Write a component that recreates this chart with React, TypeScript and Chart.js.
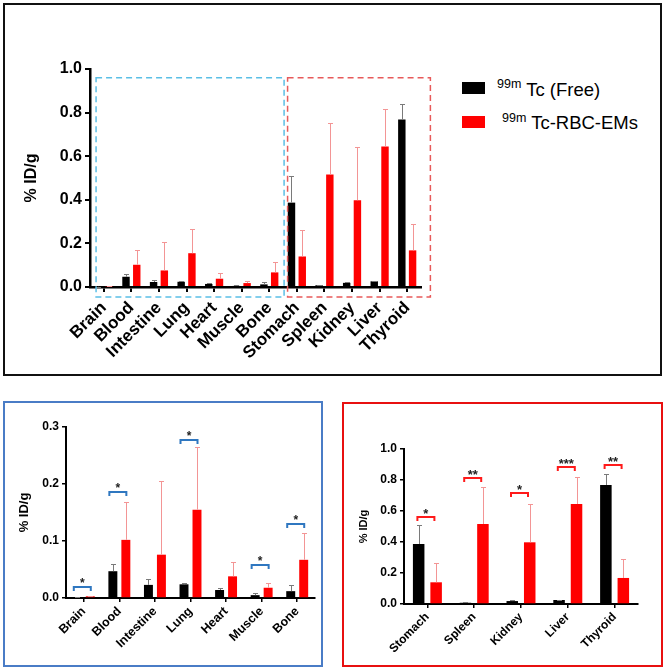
import React, { useEffect, useRef } from "react";
import { Chart, registerables } from "chart.js";

Chart.register(...registerables);

// ---------- data ----------
const ORGANS = ["Brain", "Blood", "Intestine", "Lung", "Heart", "Muscle", "Bone", "Stomach", "Spleen", "Kidney", "Liver", "Thyroid"];
const FREE_MEAN = [0.001, 0.047, 0.023, 0.024, 0.014, 0.005, 0.012, 0.387, 0.008, 0.019, 0.026, 0.768];
const FREE_ERR = [0.0005, 0.013, 0.010, 0.003, 0.004, 0.003, 0.010, 0.121, 0.002, 0.005, 0.003, 0.071];
const EMS_MEAN = [0.003, 0.102, 0.076, 0.155, 0.038, 0.018, 0.067, 0.140, 0.516, 0.398, 0.645, 0.168];
const EMS_ERR = [0.001, 0.066, 0.129, 0.110, 0.026, 0.008, 0.047, 0.122, 0.237, 0.245, 0.172, 0.122];
const ISOTOPE = "99m";
const SERIES = ["Tc (Free)", "Tc-RBC-EMs"];
const LOW_COUNT = 7;
const SIG_LOW = ["*", "*", "", "*", "", "*", "*"];
const SIG_LOW_LEVEL = [0.019, 0.186, 0, 0.278, 0, 0.058, 0.13];
const SIG_HIGH = ["*", "**", "*", "***", "**"];
const SIG_HIGH_LEVEL = [0.559, 0.81, 0.714, 0.882, 0.897];
const Y_TITLE = "% ID/g";

const FONT = "'Liberation Sans', Arial, Helvetica, sans-serif";

type Spec = {
  labels: string[];
  free: number[];
  freeErr: number[];
  ems: number[];
  emsErr: number[];
  yMax: number;
  yStep: number;
  left: number;
  top: number;
  width: number;
  height: number;
  padTop: number;
  padRight: number;
  yWidth: number;
  xHeight: number;
  tickFont: number;
  xFont: number;
  xPad: number;
  titleFont: number;
  titlePad: number;
  axisWidth: number;
  tickLen: number;
  catPct: number;
  barPct: number;
  cap: number;
  sig?: { labels: string[]; levels: number[]; color: string; font: number; lift: number };
  boxes?: boolean;
};

function buildChart(canvas: HTMLCanvasElement, s: Spec) {
  const errorPlugin = {
    id: "errorBars",
    afterDatasetsDraw(chart: any) {
      const ctx = chart.ctx;
      const y = chart.scales.y;
      chart.data.datasets.forEach((ds: any, di: number) => {
        const meta = chart.getDatasetMeta(di);
        meta.data.forEach((bar: any, i: number) => {
          const topPx = Math.round(y.getPixelForValue(ds.data[i] + ds.errors[i])) + 0.5;
          const x = Math.round(bar.x) + 0.5;
          ctx.save();
          ctx.strokeStyle = ds.errorColor;
          ctx.lineWidth = 1;
          ctx.beginPath();
          ctx.moveTo(x, bar.y);
          ctx.lineTo(x, topPx);
          ctx.moveTo(x - s.cap, topPx);
          ctx.lineTo(x + s.cap, topPx);
          ctx.stroke();
          ctx.restore();
        });
      });
    },
  };

  const sigPlugin = {
    id: "sigBrackets",
    afterDraw(chart: any) {
      if (!s.sig) return;
      const sig = s.sig;
      const ctx = chart.ctx;
      const y = chart.scales.y;
      const m0 = chart.getDatasetMeta(0);
      const m1 = chart.getDatasetMeta(1);
      sig.labels.forEach((lab, i) => {
        if (!lab) return;
        const c = (m0.data[i].x + m1.data[i].x) / 2;
        const yy = Math.round(y.getPixelForValue(sig.levels[i]));
        const l = c - 10;
        const r = c + 7;
        ctx.save();
        ctx.strokeStyle = sig.color;
        ctx.lineWidth = 2;
        ctx.beginPath();
        ctx.moveTo(l, yy + 4);
        ctx.lineTo(l, yy);
        ctx.lineTo(r, yy);
        ctx.lineTo(r, yy + 4);
        ctx.stroke();
        ctx.fillStyle = "#222";
        ctx.font = `bold ${sig.font}px ${FONT}`;
        ctx.textAlign = "center";
        ctx.textBaseline = "alphabetic";
        ctx.fillText(lab, (l + r) / 2, yy + sig.lift);
        ctx.restore();
      });
    },
  };

  const boxPlugin = {
    id: "regionBoxes",
    afterDraw(chart: any) {
      if (!s.boxes) return;
      const ctx = chart.ctx;
      const x = chart.scales.x;
      const y = chart.scales.y;
      const w = x.getPixelForValue(1) - x.getPixelForValue(0);
      const n = s.labels.length;
      const split = (x.getPixelForValue(LOW_COUNT - 1) + x.getPixelForValue(LOW_COUNT)) / 2;
      const top = y.getPixelForValue(0.96);
      const bottom = y.getPixelForValue(0) + 10;
      ctx.save();
      ctx.lineWidth = 1.5;
      ctx.setLineDash([6, 4]);
      ctx.strokeStyle = "#5bbfe6";
      const bl = x.getPixelForValue(0) - 0.28 * w;
      ctx.strokeRect(bl, top, split + 1 - bl, bottom - top);
      ctx.strokeStyle = "#e85a5a";
      const rl = split + 4.5;
      const rr = x.getPixelForValue(n - 1) + 0.84 * w;
      ctx.strokeRect(rl, top, rr - rl, bottom - top);
      ctx.restore();
    },
  };

  const bold = (size: number) => ({ family: FONT, size, weight: "bold" as const });

  return new Chart(canvas, {
    type: "bar",
    data: {
      labels: s.labels,
      datasets: [
        {
          label: ISOTOPE + SERIES[0],
          data: s.free,
          errors: s.freeErr,
          errorColor: "#7a7a7a",
          backgroundColor: "#000000",
          categoryPercentage: s.catPct,
          barPercentage: s.barPct,
        } as any,
        {
          label: ISOTOPE + SERIES[1],
          data: s.ems,
          errors: s.emsErr,
          errorColor: "#f39595",
          backgroundColor: "#ff0000",
          categoryPercentage: s.catPct,
          barPercentage: s.barPct,
        } as any,
      ],
    },
    options: {
      responsive: false,
      animation: false,
      layout: { padding: { top: s.padTop, right: s.padRight, left: 0, bottom: 0 } },
      plugins: { legend: { display: false }, tooltip: { enabled: false } },
      scales: {
        x: {
          type: "category",
          offset: true,
          grid: {
            display: true,
            drawOnChartArea: false,
            drawTicks: true,
            tickLength: s.tickLen,
            offset: false,
            color: "#000",
            lineWidth: s.axisWidth - 0.5,
          },
          border: { display: true, color: "#000", width: s.axisWidth },
          ticks: {
            font: bold(s.xFont),
            color: "#000",
            minRotation: 45,
            maxRotation: 45,
            autoSkip: false,
            padding: s.xPad,
          },
          afterFit: (sc: any) => {
            sc.height = s.xHeight;
          },
        },
        y: {
          min: 0,
          max: s.yMax,
          grid: {
            display: true,
            drawOnChartArea: false,
            drawTicks: true,
            tickLength: s.tickLen,
            color: "#000",
            lineWidth: s.axisWidth - 0.5,
          },
          border: { display: true, color: "#000", width: s.axisWidth },
          ticks: {
            stepSize: s.yStep,
            font: bold(s.tickFont),
            color: "#000",
            padding: 3,
            callback: (v: any) => Number(v).toFixed(1),
          },
          title: {
            display: true,
            text: Y_TITLE,
            font: bold(s.titleFont),
            color: "#000",
            padding: { top: s.titlePad, bottom: 0 },
          },
          afterFit: (sc: any) => {
            sc.width = s.yWidth;
          },
        },
      },
    },
    plugins: [errorPlugin, sigPlugin, boxPlugin],
  } as any);
}

function Panel({ spec }: { spec: Spec }) {
  const ref = useRef<HTMLCanvasElement | null>(null);
  useEffect(() => {
    if (!ref.current) return;
    const chart = buildChart(ref.current, spec);
    return () => chart.destroy();
  }, [spec]);
  return (
    <canvas
      ref={ref}
      width={spec.width}
      height={spec.height}
      style={{ position: "absolute", left: spec.left, top: spec.top, width: spec.width, height: spec.height }}
    />
  );
}

const TOP_SPEC: Spec = {
  labels: ORGANS,
  free: FREE_MEAN,
  freeErr: FREE_ERR,
  ems: EMS_MEAN,
  emsErr: EMS_ERR,
  yMax: 1,
  yStep: 0.2,
  left: 0,
  top: 0,
  width: 440,
  height: 372,
  padTop: 69,
  padRight: 19,
  yWidth: 90,
  xHeight: 85,
  tickFont: 16,
  xFont: 17,
  xPad: 6,
  titleFont: 16,
  titlePad: 22,
  axisWidth: 2.5,
  tickLen: 5,
  catPct: 0.78,
  barPct: 0.69,
  cap: 2.5,
  boxes: true,
};

const LOW_SPEC: Spec = {
  labels: ORGANS.slice(0, LOW_COUNT),
  free: FREE_MEAN.slice(0, LOW_COUNT),
  freeErr: FREE_ERR.slice(0, LOW_COUNT),
  ems: EMS_MEAN.slice(0, LOW_COUNT),
  emsErr: EMS_ERR.slice(0, LOW_COUNT),
  yMax: 0.3,
  yStep: 0.1,
  left: 0,
  top: 380,
  width: 330,
  height: 290,
  padTop: 47,
  padRight: 15,
  yWidth: 66,
  xHeight: 72,
  tickFont: 12,
  xFont: 12.5,
  xPad: 2,
  titleFont: 13,
  titlePad: 17,
  axisWidth: 2,
  tickLen: 4,
  catPct: 0.73,
  barPct: 0.69,
  cap: 2.5,
  sig: { labels: SIG_LOW, levels: SIG_LOW_LEVEL, color: "#2f77c0", font: 12, lift: 0 },
};

const HIGH_SPEC: Spec = {
  labels: ORGANS.slice(LOW_COUNT),
  free: FREE_MEAN.slice(LOW_COUNT),
  freeErr: FREE_ERR.slice(LOW_COUNT),
  ems: EMS_MEAN.slice(LOW_COUNT),
  emsErr: EMS_ERR.slice(LOW_COUNT),
  yMax: 1,
  yStep: 0.2,
  left: 336,
  top: 380,
  width: 330,
  height: 290,
  padTop: 69,
  padRight: 28,
  yWidth: 68,
  xHeight: 66,
  tickFont: 12,
  xFont: 12,
  xPad: 2,
  titleFont: 11,
  titlePad: 21,
  axisWidth: 2,
  tickLen: 4,
  catPct: 0.746,
  barPct: 0.66,
  cap: 2.5,
  sig: { labels: SIG_HIGH, levels: SIG_HIGH_LEVEL, color: "#ff1a1a", font: 13, lift: 1 },
};

export default function App() {
  const legendText = (i: number, left: number, top: number, supLift: number) => (
    <div
      style={{
        position: "absolute",
        left,
        top,
        fontFamily: FONT,
        fontSize: 18.5,
        lineHeight: "20px",
        color: "#000",
        whiteSpace: "nowrap",
      }}
    >
      <span style={{ fontSize: 12.5, position: "relative", top: -supLift }}>{ISOTOPE}</span> <span>{SERIES[i]}</span>
    </div>
  );
  return (
    <div style={{ position: "absolute", left: 0, top: 0, width: 666, height: 671, background: "#fff", overflow: "hidden" }}>
      <div style={{ position: "absolute", left: 3, top: 3, width: 659, height: 373, border: "2px solid #111", boxSizing: "border-box" }} />
      <div style={{ position: "absolute", left: 3, top: 401, width: 320, height: 266, border: "2.5px solid #4a7cc6", boxSizing: "border-box" }} />
      <div style={{ position: "absolute", left: 342, top: 402, width: 321, height: 265, border: "2.5px solid #e81010", boxSizing: "border-box" }} />
      <Panel spec={TOP_SPEC} />
      <Panel spec={LOW_SPEC} />
      <Panel spec={HIGH_SPEC} />
      <div style={{ position: "absolute", left: 462, top: 82, width: 23, height: 12, background: "#000" }} />
      <div style={{ position: "absolute", left: 462, top: 116, width: 23, height: 12, background: "#ff0000" }} />
      {legendText(0, 497, 80, 8)}
      {legendText(1, 502, 113, 7)}
    </div>
  );
}
